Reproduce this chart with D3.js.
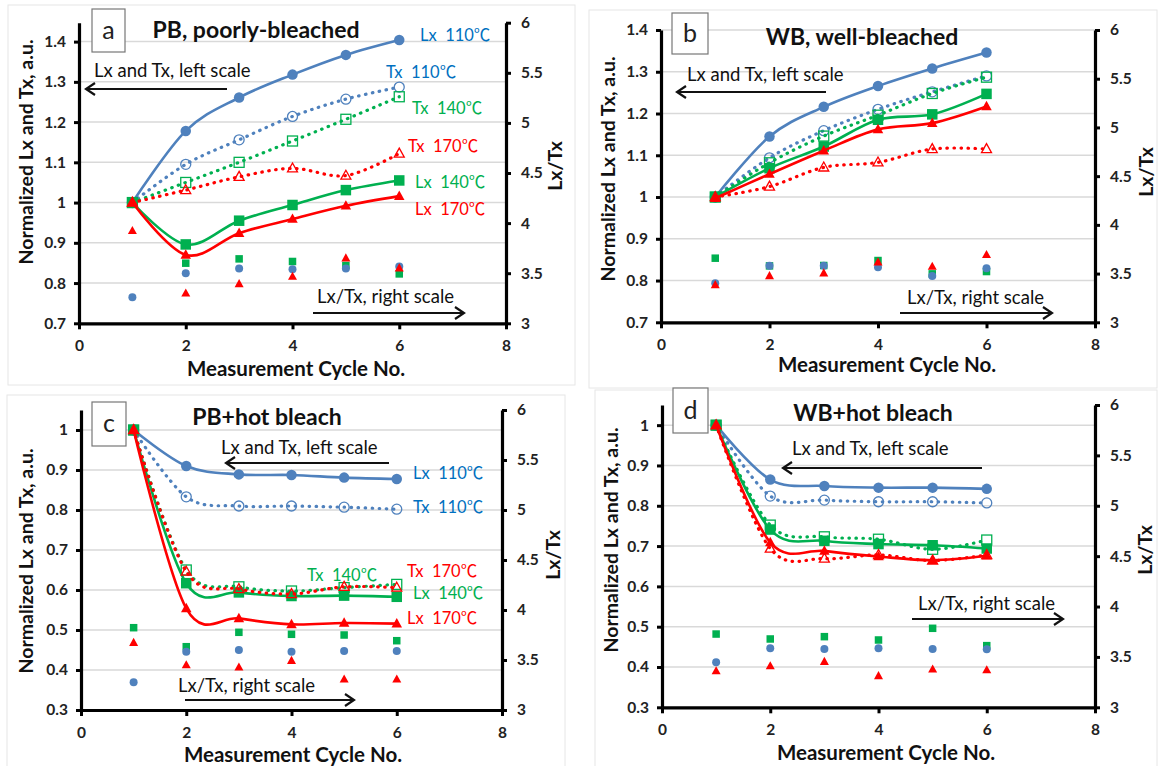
<!DOCTYPE html>
<html><head><meta charset="utf-8">
<script src="https://cdn.jsdelivr.net/npm/d3@7"></script>
<style>body{margin:0;background:#fff}svg{display:block}</style>
</head><body>
<svg id="c" width="1158" height="766"></svg>
<script>
// ---------- DATA ----------
const cycles = [1, 2, 3, 4, 5, 6];
const xTicks = [0, 2, 4, 6, 8];
const rightTicks = [3, 3.5, 4, 4.5, 5, 5.5, 6];
const leftTicksAB = [0.7, 0.8, 0.9, 1.0, 1.1, 1.2, 1.3, 1.4];
const leftTicksCD = [0.3, 0.4, 0.5, 0.6, 0.7, 0.8, 0.9, 1.0];

// Panel a: PB, poorly-bleached
const a_Lx110 = [1.0, 1.178, 1.261, 1.318, 1.367, 1.404];
const a_Tx110 = [1.0, 1.095, 1.156, 1.214, 1.257, 1.287];
const a_Lx140 = [1.0, 0.896, 0.955, 0.994, 1.031, 1.055];
const a_Tx140 = [1.0, 1.050, 1.100, 1.153, 1.207, 1.263];
const a_Lx170 = [1.0, 0.870, 0.924, 0.959, 0.992, 1.016];
const a_Tx170 = [1.0, 1.031, 1.064, 1.085, 1.067, 1.122];
const a_R110 = [3.26, 3.50, 3.547, 3.54, 3.547, 3.567];
const a_R140 = [null, 3.60, 3.643, 3.617, 3.577, 3.493];
const a_R170 = [3.923, 3.30, 3.393, 3.467, 3.65, 3.55];

// Panel b: WB, well-bleached
const b_Lx110 = [1.0, 1.145, 1.216, 1.266, 1.308, 1.346];
const b_Tx110 = [1.0, 1.094, 1.159, 1.210, 1.252, 1.290];
const b_Lx140 = [1.0, 1.069, 1.121, 1.185, 1.198, 1.247];
const b_Tx140 = [1.0, 1.082, 1.146, 1.196, 1.248, 1.287];
const b_Lx170 = [0.997, 1.055, 1.111, 1.162, 1.177, 1.217];
const b_Tx170 = [1.0, 1.025, 1.071, 1.083, 1.115, 1.115];
const b_R110 = [3.401, 3.58, 3.58, 3.566, 3.476, 3.555];
const b_R140 = [3.658, 3.579, 3.583, 3.634, 3.497, 3.521];
const b_R170 = [3.384, 3.476, 3.504, 3.617, 3.572, 3.693];

// Panel c: PB+hot bleach
const c_Lx110 = [1.0, 0.910, 0.889, 0.8875, 0.881, 0.8775];
const c_Tx110 = [1.0, 0.833, 0.810, 0.810, 0.807, 0.802];
const c_Lx140 = [1.0, 0.617, 0.594, 0.585, 0.586, 0.583];
const c_Tx140 = [1.0, 0.650, 0.608, 0.5975, 0.606, 0.614];
const c_Lx170 = [1.0, 0.554, 0.529, 0.514, 0.5175, 0.516];
const c_Tx170 = [1.0, 0.646, 0.6025, 0.590, 0.608, 0.606];
const c_R110 = [3.277, 3.583, 3.60, 3.583, 3.59, 3.59];
const c_R140 = [3.823, 3.633, 3.777, 3.757, 3.75, 3.693];
const c_R170 = [3.673, 3.45, 3.427, 3.493, 3.307, 3.307];

// Panel d: WB+hot bleach
const d_Lx110 = [1.0, 0.865, 0.849, 0.845, 0.845, 0.842];
const d_Tx110 = [1.0, 0.824, 0.814, 0.810, 0.810, 0.807];
const d_Lx140 = [1.0, 0.741, 0.713, 0.705, 0.702, 0.694];
const d_Tx140 = [1.0, 0.752, 0.723, 0.717, 0.692, 0.715];
const d_Lx170 = [1.0, 0.709, 0.688, 0.674, 0.665, 0.676];
const d_Tx170 = [1.0, 0.694, 0.669, 0.678, 0.664, 0.678];
const d_R110 = [3.446, 3.585, 3.579, 3.585, 3.579, 3.575];
const d_R140 = [3.727, 3.678, 3.701, 3.668, 3.784, 3.612];
const d_R170 = [3.36, 3.41, 3.453, 3.311, 3.377, 3.37];

// ---------- STYLE ----------
const FONT = "Lato, 'Noto Sans CJK SC', 'DejaVu Sans', sans-serif";
const CJK = "'Noto Sans CJK SC', 'Noto Sans CJK JP', sans-serif";
const COL = {
  b: "#4f81bd", g: "#00b050", r: "#ff0000",
  bt: "#0070c0", gt: "#00b050", rt: "#ff0000"
};

const panels = [
  { key: "a", title: "PB, poorly-bleached",
    x0: 79, x1: 506, yb: 323.3, yt: 22.7, left: [0.7, 1.447], lticks: leftTicksAB,
    border: [8, 5, 575, 385], box: [92, 9, 33, 43], titlePos: [256, 38],
    ytitle: [26, 152], rtitle: [555, 166], xtitle: [296, 376],
    lnote: [94, 77], larrow: [227, 86, 89], rnote: [317, 303], rarrow: [313, 464, 313],
    data: { Lx110: a_Lx110, Tx110: a_Tx110, Lx140: a_Lx140, Tx140: a_Tx140, Lx170: a_Lx170, Tx170: a_Tx170, R110: a_R110, R140: a_R140, R170: a_R170 },
    labels: [
      ["Lx  110", 420, 41, "bt"], ["Tx  110", 386, 78, "bt"], ["Tx  140", 412, 114, "gt"],
      ["Tx  170", 408, 152, "rt"], ["Lx  140", 415, 188, "gt"], ["Lx  170", 415, 215, "rt"]
    ] },
  { key: "b", title: "WB, well-bleached",
    x0: 661, x1: 1095, yb: 322.3, yt: 30, left: [0.7, 1.4], lticks: leftTicksAB,
    border: [589, 10, 1157, 388], box: [672, 13, 36, 41], titlePos: [862, 45],
    ytitle: [608, 169], rtitle: [1146, 172], xtitle: [887, 372],
    lnote: [687, 81], larrow: [826, 677, 92], rnote: [907, 304], rarrow: [900, 1052, 313],
    data: { Lx110: b_Lx110, Tx110: b_Tx110, Lx140: b_Lx140, Tx140: b_Tx140, Lx170: b_Lx170, Tx170: b_Tx170, R110: b_R110, R140: b_R140, R170: b_R170 },
    labels: [] },
  { key: "c", title: "PB+hot bleach",
    x0: 81, x1: 502, yb: 710, yt: 410, left: [0.3, 1.05], lticks: leftTicksCD,
    border: [7, 395, 565, 770], box: [92, 402, 34, 44], titlePos: [267, 425],
    ytitle: [26, 561], rtitle: [553, 555], xtitle: [293, 762],
    lnote: [221, 454], larrow: [389, 226, 463], rnote: [178, 692], rarrow: [185, 354, 700],
    data: { Lx110: c_Lx110, Tx110: c_Tx110, Lx140: c_Lx140, Tx140: c_Tx140, Lx170: c_Lx170, Tx170: c_Tx170, R110: c_R110, R140: c_R140, R170: c_R170 },
    labels: [
      ["Lx  110", 413, 479, "bt"], ["Tx  110", 413, 513, "bt"], ["Tx  140", 307, 581, "gt"],
      ["Tx  170", 407, 577, "rt"], ["Lx  140", 413, 599, "gt"], ["Lx  170", 407, 624, "rt"]
    ] },
  { key: "d", title: "WB+hot bleach",
    x0: 662, x1: 1095, yb: 707.3, yt: 405, left: [0.3, 1.05], lticks: leftTicksCD,
    border: [595, 390, 1157, 770], box: [673, 388, 35, 45], titlePos: [873, 421],
    ytitle: [611, 540], rtitle: [1145, 550], xtitle: [886, 760],
    lnote: [792, 455], larrow: [982, 783, 468], rnote: [918, 610], rarrow: [912, 1063, 619],
    data: { Lx110: d_Lx110, Tx110: d_Tx110, Lx140: d_Lx140, Tx140: d_Tx140, Lx170: d_Lx170, Tx170: d_Tx170, R110: d_R110, R140: d_R140, R170: d_R170 },
    labels: [] }
];

const svg = d3.select("#c");
const fmt = d => String(+d.toFixed(1));

function marker(g, type, cx, cy, size, color, filled) {
  const fill = filled ? color : "none";
  const sw = filled ? 0 : 1.3;
  if (type === "circle") {
    g.append("circle").attr("cx", cx).attr("cy", cy).attr("r", size / 2)
      .attr("fill", fill).attr("stroke", color).attr("stroke-width", sw);
  } else if (type === "square") {
    g.append("rect").attr("x", cx - size / 2).attr("y", cy - size / 2).attr("width", size).attr("height", size)
      .attr("fill", fill).attr("stroke", color).attr("stroke-width", sw);
  } else {
    const h = size * 0.9;
    g.append("path").attr("d", `M${cx},${cy - h * 0.6}L${cx + size / 2},${cy + h * 0.4}L${cx - size / 2},${cy + h * 0.4}Z`)
      .attr("fill", fill).attr("stroke", color).attr("stroke-width", sw);
  }
}

function arrow(g, xs, xe, y) {
  g.append("line").attr("x1", xs).attr("x2", xe).attr("y1", y).attr("y2", y)
    .attr("stroke", "#111").attr("stroke-width", 2.2);
  const dir = xe > xs ? -1 : 1;
  g.append("path").attr("d", `M${xe + dir * 9},${y - 6}L${xe},${y}L${xe + dir * 9},${y + 6}`)
    .attr("fill", "none").attr("stroke", "#111").attr("stroke-width", 2.2);
}

panels.forEach(p => {
  const g = svg.append("g");
  const x = d3.scaleLinear().domain([0, 8]).range([p.x0, p.x1]);
  const yL = d3.scaleLinear().domain(p.left).range([p.yb, p.yt]);
  const yR = d3.scaleLinear().domain([3, 6]).range([p.yb, p.yt]);

  // panel border
  g.append("rect").attr("x", p.border[0]).attr("y", p.border[1])
    .attr("width", p.border[2] - p.border[0]).attr("height", p.border[3] - p.border[1])
    .attr("fill", "none").attr("stroke", "#e6e6e6").attr("stroke-width", 1);

  // gridlines
  g.append("g").selectAll("line").data(p.lticks.slice(1)).join("line")
    .attr("x1", p.x0).attr("x2", p.x1).attr("y1", d => yL(d)).attr("y2", d => yL(d))
    .attr("stroke", "#d9d9d9").attr("stroke-width", 1.5);

  // axes
  const axL = g.append("g").attr("transform", `translate(${p.x0},0)`)
    .call(d3.axisLeft(yL).tickValues(p.lticks).tickFormat(fmt).tickSize(5).tickSizeOuter(0).tickPadding(8));
  const axR = g.append("g").attr("transform", `translate(${p.x1},0)`)
    .call(d3.axisRight(yR).tickValues(rightTicks).tickFormat(fmt).tickSize(5).tickSizeOuter(0).tickPadding(10));
  const axB = g.append("g").attr("transform", `translate(0,${p.yb})`)
    .call(d3.axisBottom(x).tickValues(xTicks).tickFormat(d3.format("d")).tickSize(6).tickSizeOuter(0).tickPadding(11));
  [axL, axR, axB].forEach(ax => {
    ax.select(".domain").attr("stroke", "#000").attr("stroke-width", 3.2);
    ax.selectAll(".tick line").attr("stroke", "#000").attr("stroke-width", 3);
    ax.selectAll(".tick text").attr("font-family", FONT).attr("font-size", 15.5)
      .attr("font-weight", 700).attr("fill", "#222");
  });

  // panel letter box
  g.append("rect").attr("x", p.box[0]).attr("y", p.box[1]).attr("width", p.box[2]).attr("height", p.box[3])
    .attr("fill", "#fff").attr("stroke", "#777").attr("stroke-width", 1.2);
  g.append("text").attr("x", p.box[0] + p.box[2] / 2).attr("y", p.box[1] + p.box[3] / 2 + 8)
    .attr("text-anchor", "middle").attr("font-family", FONT).attr("font-size", 25).attr("fill", "#222").text(p.key);

  // title
  g.append("text").attr("x", p.titlePos[0]).attr("y", p.titlePos[1]).attr("text-anchor", "middle")
    .attr("font-family", FONT).attr("font-size", 23).attr("font-weight", 700).attr("fill", "#111").text(p.title);

  // axis titles
  g.append("text").attr("transform", `translate(${p.ytitle[0]},${p.ytitle[1]}) rotate(-90)`)
    .attr("text-anchor", "middle").attr("dy", "0.35em").attr("font-family", FONT).attr("font-size", 19.5)
    .attr("font-weight", 700).attr("fill", "#111").text("Normalized Lx and Tx, a.u.");
  g.append("text").attr("transform", `translate(${p.rtitle[0]},${p.rtitle[1]}) rotate(-90)`)
    .attr("text-anchor", "middle").attr("dy", "0.35em").attr("font-family", FONT).attr("font-size", 19.5)
    .attr("font-weight", 700).attr("fill", "#111").text("Lx/Tx");
  g.append("text").attr("x", p.xtitle[0]).attr("y", p.xtitle[1]).attr("text-anchor", "middle")
    .attr("font-family", FONT).attr("font-size", 20.5).attr("font-weight", 700).attr("fill", "#111").text("Measurement Cycle No.");

  // annotations
  g.append("text").attr("x", p.lnote[0]).attr("y", p.lnote[1]).attr("font-family", FONT).attr("font-size", 18.5)
    .attr("fill", "#111").text("Lx and Tx, left scale");
  arrow(g, p.larrow[0], p.larrow[1], p.larrow[2]);
  g.append("text").attr("x", p.rnote[0]).attr("y", p.rnote[1]).attr("font-family", FONT).attr("font-size", 18.5)
    .attr("fill", "#111").text("Lx/Tx, right scale");
  arrow(g, p.rarrow[0], p.rarrow[1], p.rarrow[2]);

  // ratio markers (right scale)
  const ratioSeries = [["R140", "square", COL.g, 7.5], ["R110", "circle", COL.b, 8], ["R170", "tri", COL.r, 9]];
  ratioSeries.forEach(([k, t, c, s]) => {
    p.data[k].forEach((v, i) => { if (v != null) marker(g, t, x(cycles[i]), yR(v), s, c, true); });
  });

  // line series (left scale)
  const smooth = d3.line().x((d, i) => x(cycles[i])).y(d => yL(d)).curve(d3.curveCardinal.tension(0));
  const series = [
    ["Tx110", COL.b, "circle", false], ["Lx110", COL.b, "circle", true],
    ["Tx140", COL.g, "square", false], ["Lx140", COL.g, "square", true],
    ["Tx170", COL.r, "tri", false], ["Lx170", COL.r, "tri", true]
  ];
  series.forEach(([k, c, t, filled]) => {
    const path = g.append("path").attr("d", smooth(p.data[k])).attr("fill", "none").attr("stroke", c);
    if (filled) path.attr("stroke-width", 2.6);
    else path.attr("stroke-width", 3.2).attr("stroke-dasharray", "0.5 6.5").attr("stroke-linecap", "round");
    p.data[k].forEach((v, i) => marker(g, t, x(cycles[i]), yL(v), filled ? 10.5 : 10, c, filled));
  });

  // series labels
  p.labels.forEach(([txt, lx, ly, ck]) => {
    const t = g.append("text").attr("x", lx).attr("y", ly).attr("font-family", FONT).attr("font-size", 16.5)
      .attr("fill", COL[ck]).style("white-space", "pre");
    t.append("tspan").text(txt);
    t.append("tspan").attr("font-family", CJK).text("℃");
  });
});
</script>
</body></html>
